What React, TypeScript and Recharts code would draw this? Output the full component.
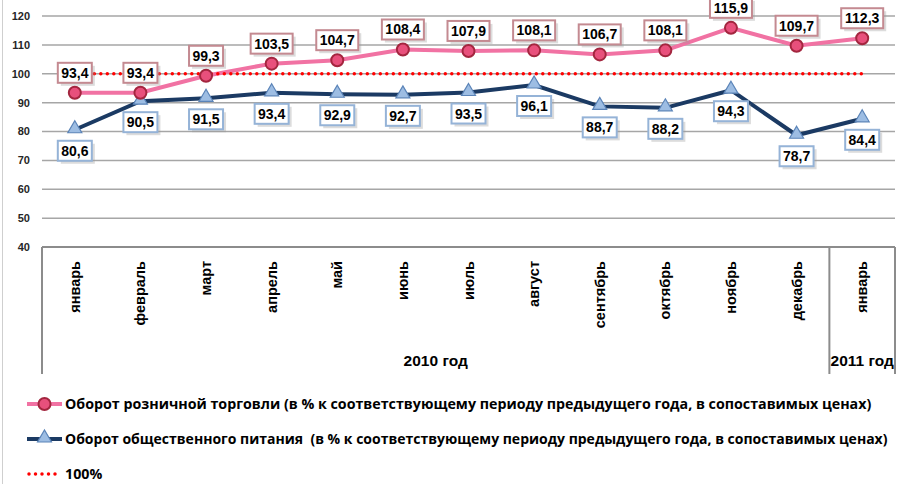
import React from 'react';
import { LineChart, Line, XAxis, YAxis, CartesianGrid, LabelList } from 'recharts';

// months of 2010 + January 2011
const months = ['январь', 'февраль', 'март', 'апрель', 'май', 'июнь', 'июль', 'август', 'сентябрь', 'октябрь', 'ноябрь', 'декабрь', 'январь'];
const retail = [93.4, 93.4, 99.3, 103.5, 104.7, 108.4, 107.9, 108.1, 106.7, 108.1, 115.9, 109.7, 112.3];
const catering = [80.6, 90.5, 91.5, 93.4, 92.9, 92.7, 93.5, 96.1, 88.7, 88.2, 94.3, 78.7, 84.4];
const base = [100, 100, 100, 100, 100, 100, 100, 100, 100, 100, 100, 100, 100];
const yTicks = [40, 50, 60, 70, 80, 90, 100, 110, 120];
const years = [
  { label: '2010 год', from: 0, to: 11 },
  { label: '2011 год', from: 12, to: 12 },
];
const legendItems = [
  'Оборот розничной торговли (в % к соответствующему периоду предыдущего года, в сопоставимых ценах)',
  'Оборот общественного питания  (в % к соответствующему периоду предыдущего года, в сопоставимых ценах)',
  '100%',
];

const data = months.map((m, i) => ({
  idx: i,
  month: m,
  retail: retail[i],
  catering: catering[i],
  base: base[i],
}));

const PINK = '#f172a3';
const NAVY = '#1b3a63';
const RED = '#ff0000';
const AXIS = '#8c8c8c';
const FONT = '"Liberation Sans", Arial, sans-serif';
const LEGEND_FONT = "'Open Sans', sans-serif";

const fmt = (v: number) => v.toFixed(1).replace('.', ',');

const MonthTick = (props: any) => {
  const { x, y, payload, index, width, visibleTicksCount } = props;
  const half = width && visibleTicksCount ? width / visibleTicksCount / 2 : payload.offset;
  const bottom = y + 127;
  const group = years.find((g) => g.from === index);
  const last = years[years.length - 1];
  return (
    <g>
      <text
        x={x + 5}
        y={y + 14}
        transform={`rotate(-90, ${x + 5}, ${y + 14})`}
        textAnchor="end"
        fontFamily={FONT}
        fontWeight="bold"
        fontSize={14.5}
        fill="#000"
      >
        {months[payload.value]}
      </text>
      {group && (
        <>
          <line x1={x - half} y1={y} x2={x - half} y2={bottom} stroke={AXIS} strokeWidth={2} />
          <text
            x={x - half + (group.to - group.from + 1) * half}
            y={y + 119}
            textAnchor="middle"
            fontFamily={FONT}
            fontWeight="bold"
            fontSize={15.5}
            fill="#000"
          >
            {group.label}
          </text>
        </>
      )}
      {index === last.to && (
        <line x1={x + half} y1={y} x2={x + half} y2={bottom} stroke={AXIS} strokeWidth={2} />
      )}
    </g>
  );
};

const makeLabel = (border: string, dy: number) => (props: any) => {
  const { x, y, value, index } = props;
  if (value == null) return null;
  const text = fmt(value);
  const w = text.length * 8 + 2;
  const cx = x;
  const cy = y + dy;
  return (
    <g key={index}>
      <rect x={cx - w / 2 + 3} y={cy - 10 + 3} width={w} height={20} fill="#9a9a9a" opacity={0.35} />
      <rect x={cx - w / 2} y={cy - 10} width={w} height={20} fill="#fff" stroke={border} strokeWidth={2} />
      <text x={cx} y={cy + 5} textAnchor="middle" fontFamily={FONT} fontWeight="bold" fontSize={14} fill="#000">
        {text}
      </text>
    </g>
  );
};

const RetailLabel = makeLabel('#c48a91', -20);
const CateringLabel = makeLabel('#95b3d7', 21);

const TriangleDot = (props: any) => {
  const { cx, cy, index } = props;
  if (cx == null || cy == null) return null;
  return (
    <path
      key={index}
      d={`M${cx},${cy - 9} L${cx + 7},${cy + 3} L${cx - 7},${cy + 3} Z`}
      fill="#9dbde3"
      stroke="#5b84b8"
      strokeWidth={1.2}
    />
  );
};

const Legend = () => (
  <svg width={900} height={110} style={{ position: 'absolute', left: 0, top: 374 }}>
    <g>
      <line x1={27} y1={30} x2={62} y2={30} stroke={PINK} strokeWidth={4} />
      <circle cx={44.5} cy={30} r={6} fill="#e8507c" stroke="#a3263f" strokeWidth={2} />
      <text x={65} y={35} fontFamily={LEGEND_FONT} fontWeight="bold" fontSize={14.25} fill="#000">
        {legendItems[0]}
      </text>
    </g>
    <g>
      <line x1={27} y1={65} x2={62} y2={65} stroke={NAVY} strokeWidth={4} />
      <path d="M44.5,56 L51.5,68 L37.5,68 Z" fill="#9dbde3" stroke="#5b84b8" strokeWidth={1.2} />
      <text x={65} y={70} fontFamily={LEGEND_FONT} fontWeight="bold" fontSize={14} fill="#000" style={{ whiteSpace: 'pre' }}>
        {legendItems[1]}
      </text>
    </g>
    <g>
      <line x1={29} y1={100} x2={61} y2={100} stroke={RED} strokeWidth={3.5} strokeDasharray="0 6.5" strokeLinecap="round" />
      <text x={65} y={105} fontFamily={LEGEND_FONT} fontWeight="bold" fontSize={14.25} fill="#000">
        {legendItems[2]}
      </text>
    </g>
  </svg>
);

export default function App() {
  return (
    <div style={{ position: 'absolute', left: 0, top: 0, width: 900, height: 484, overflow: 'hidden', background: '#fff' }}>
      <div style={{ position: 'absolute', left: 2, top: 0, width: 1, height: 484, background: '#cfcfcf' }} />
      <LineChart
        width={900}
        height={484}
        data={data}
        margin={{ top: 16, right: 5, left: 0, bottom: 110 }}
      >
        <CartesianGrid vertical={false} stroke="#a6a6a6" strokeWidth={1.5} />
        <XAxis
          dataKey="idx"
          type="category"
          scale="band"
          height={127}
          tickLine={false}
          tickSize={0}
          tickMargin={0}
          axisLine={{ stroke: AXIS, strokeWidth: 2 }}
          interval={0}
          tick={<MonthTick />}
        />
        <YAxis
          width={42}
          domain={[40, 120]}
          ticks={yTicks}
          axisLine={false}
          tickLine={false}
          tickMargin={6}
          tick={{ fontFamily: FONT, fontWeight: 'bold', fontSize: 11, fill: '#262626' }}
        />
        <Line
          dataKey="catering"
          stroke={NAVY}
          strokeWidth={4}
          dot={<TriangleDot />}
          activeDot={false}
          isAnimationActive={false}
        />
        <Line
          dataKey="retail"
          stroke={PINK}
          strokeWidth={4}
          dot={{ r: 6, fill: '#e8507c', stroke: '#a3263f', strokeWidth: 2 }}
          activeDot={false}
          isAnimationActive={false}
        />
        <Line
          dataKey="base"
          stroke={RED}
          strokeWidth={3.5}
          strokeDasharray="0 6.5"
          strokeLinecap="round"
          dot={false}
          activeDot={false}
          isAnimationActive={false}
        />
        {/* label-only layers so boxes sit above all lines */}
        <Line dataKey="retail" stroke="none" dot={false} activeDot={false} isAnimationActive={false}>
          <LabelList dataKey="retail" content={RetailLabel} />
        </Line>
        <Line dataKey="catering" stroke="none" dot={false} activeDot={false} isAnimationActive={false}>
          <LabelList dataKey="catering" content={CateringLabel} />
        </Line>
      </LineChart>
      <Legend />
    </div>
  );
}
